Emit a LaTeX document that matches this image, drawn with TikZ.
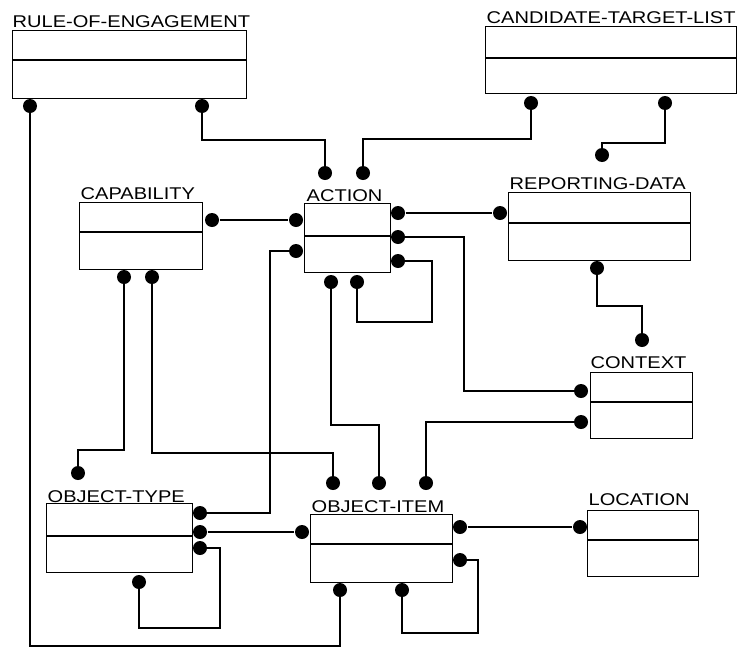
\documentclass[tikz,border=0pt]{standalone}
\usepackage{fontspec}
\newfontfamily\erfont[FakeStretch=1.18]{Liberation Sans}
\begin{document}
\begin{tikzpicture}[x=1pt,y=-1pt,line width=1.3pt,
  entity/.style={draw,anchor=north west,inner sep=0pt},
  etitle/.style={anchor=base west,inner sep=0pt,font=\erfont\fontsize{17}{17}\selectfont},
  blob/.style={circle,fill,inner sep=0pt,minimum size=14pt}]
\useasboundingbox (0,0) rectangle (746,648);
% entities
\node[entity,minimum width=234,minimum height=68] (roe) at (12,30) {};
\node[entity,minimum width=251,minimum height=67] (ctl) at (485,26) {};
\node[entity,minimum width=86,minimum height=69] (act) at (304,203) {};
\node[entity,minimum width=123,minimum height=67] (cap) at (79,202) {};
\node[entity,minimum width=182,minimum height=68] (rd) at (508,192) {};
\node[entity,minimum width=102,minimum height=66] (cx) at (590,372) {};
\node[entity,minimum width=146,minimum height=69] (ot) at (46,503) {};
\node[entity,minimum width=142,minimum height=68] (oi) at (310,514) {};
\node[entity,minimum width=111,minimum height=66] (loc) at (587,510) {};
\foreach \e/\d in {roe/30,ctl/32,act/33,cap/30,rd/31,cx/30,ot/33,oi/30,loc/30}
  \draw ([yshift=-\d pt]\e.north west) -- ([yshift=-\d pt]\e.north east);
% titles
\node[etitle] (roeL) at ([shift={(0pt,3pt)}]roe.north west) {RULE-OF-ENGAGEMENT};
\node[etitle] (ctlL) at ([shift={(1pt,3pt)}]ctl.north west) {CANDIDATE-TARGET-LIST};
\node[etitle] (actL) at ([shift={(2pt,2pt)}]act.north west) {ACTION};
\node[etitle] (capL) at ([shift={(1pt,3pt)}]cap.north west) {CAPABILITY};
\node[etitle] (rdL) at ([shift={(1pt,3pt)}]rd.north west) {REPORTING-DATA};
\node[etitle] (cxL) at ([shift={(0pt,4pt)}]cx.north west) {CONTEXT};
\node[etitle] (otL) at ([shift={(1pt,1pt)}]ot.north west) {OBJECT-TYPE};
\node[etitle] (oiL) at ([shift={(1pt,2pt)}]oi.north west) {OBJECT-ITEM};
\node[etitle] (locL) at ([shift={(1pt,5pt)}]loc.north west) {LOCATION};
% relationship ends
\node[blob] (roeA) at (30,106) {};
\node[blob] (roeB) at (202,106) {};
\node[blob] (ctlA) at (531,103) {};
\node[blob] (ctlB) at (665,103) {};
\node[blob] (rdT) at (602,155) {};
\node[blob] (actT1) at (325,173) {};
\node[blob] (actT2) at (363,173) {};
\node[blob] (capR) at (212,220) {};
\node[blob] (actL1) at (296,220) {};
\node[blob] (actL2) at (296,251) {};
\node[blob] (actR1) at (398,213) {};
\node[blob] (actR2) at (398,237) {};
\node[blob] (actR3) at (398,261) {};
\node[blob] (rdW) at (500,213) {};
\node[blob] (actB1) at (331,282) {};
\node[blob] (actB2) at (357,282) {};
\node[blob] (capB1) at (124,277) {};
\node[blob] (capB2) at (152,277) {};
\node[blob] (rdB) at (597,268) {};
\node[blob] (cxT) at (642,340) {};
\node[blob] (cxW1) at (581,391) {};
\node[blob] (cxW2) at (581,422) {};
\node[blob] (otT) at (78,473) {};
\node[blob] (oiT1) at (333,483) {};
\node[blob] (oiT2) at (379,483) {};
\node[blob] (oiT3) at (426,483) {};
\node[blob] (otR1) at (200,513) {};
\node[blob] (otR2) at (200,532) {};
\node[blob] (otR3) at (200,548) {};
\node[blob] (oiW) at (302,532) {};
\node[blob] (otB) at (139,582) {};
\node[blob] (oiR1) at (460,527) {};
\node[blob] (oiR2) at (460,560) {};
\node[blob] (locW) at (580,527) {};
\node[blob] (oiB1) at (340,590) {};
\node[blob] (oiB2) at (402,590) {};
% relationships
\draw (roeA.center) -- ++(0,540) -| (oiB1.center);
\draw (roeB.center) -- ++(0,34) -| (actT1.center);
\draw (ctlA.center) -- ++(0,36) -| (actT2.center);
\draw (ctlB.center) -- ++(0,40) -| (rdT.center);
\draw (capR) -- (actL1);
\draw (actL2.center) -- ++(-26,0) |- (otR1.center);
\draw (actR1) -- (rdW);
\draw (actR2.center) -- ++(66,0) |- (cxW1.center);
\draw (actR3.center) -- ++(34,0) -- ++(0,61) -| (actB2.center);
\draw (actB1.center) -- ++(0,143) -| (oiT2.center);
\draw (capB1.center) -- ++(0,173) -| (otT.center);
\draw (capB2.center) -- ++(0,176) -| (oiT1.center);
\draw (rdB.center) -- ++(0,38) -| (cxT.center);
\draw (cxW2.center) -| (oiT3.center);
\draw (otR2) -- (oiW);
\draw (otR3.center) -- ++(20,0) -- ++(0,80) -| (otB.center);
\draw (oiR1) -- (locW);
\draw (oiR2.center) -- ++(18,0) -- ++(0,73) -| (oiB2.center);
\end{tikzpicture}
\end{document}
